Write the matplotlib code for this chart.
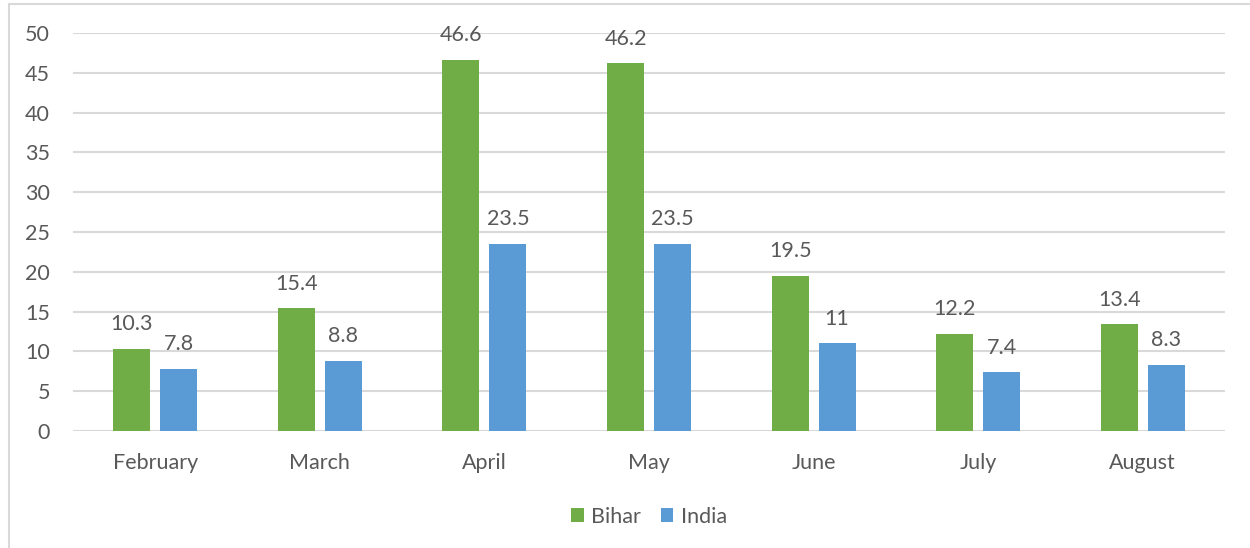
import matplotlib
matplotlib.use("Agg")
import matplotlib.pyplot as plt
import numpy as np
from matplotlib.patches import Rectangle

months = ["February", "March", "April", "May", "June", "July", "August"]
bihar = [10.3, 15.4, 46.6, 46.2, 19.5, 12.2, 13.4]
india = [7.8, 8.8, 23.5, 23.5, 11, 7.4, 8.3]
series_names = ["Bihar", "India"]
yticks = [0, 5, 10, 15, 20, 25, 30, 35, 40, 45, 50]

green = "#70ad47"
blue = "#5b9bd5"
txt = "#595959"
plt.rcParams['font.family'] = ['Lato', 'DejaVu Sans']
fs = 15.5

fig = plt.figure(figsize=(12.5, 5.48), dpi=100)
fig.patches.append(Rectangle((9/1250, -0.1), 1.2, (548-4)/548 + 0.1, transform=fig.transFigure,
                             fill=False, edgecolor="#d9d9d9", linewidth=1.5))
ax = fig.add_axes([73/1250, 1-431/548, (1225-73)/1250, (431-33)/548])

x = np.arange(len(months))
w = 0.225
gap = 0.06
off = (w + gap) / 2
b1 = ax.bar(x - off, bihar, w, color=green, label=series_names[0], zorder=3)
b2 = ax.bar(x + off, india, w, color=blue, label=series_names[1], zorder=3)

for bars, vals in ((b1, bihar), (b2, india)):
    for r, v in zip(bars, vals):
        ax.annotate(f"{v:g}", (r.get_x() + r.get_width()/2, v), xytext=(0, 10.5),
                    textcoords="offset points", ha="center", va="bottom",
                    fontsize=fs, color=txt)

ax.set_xlim(-0.5, len(months) - 0.5)
ax.set_ylim(0, 50)
ax.set_yticks(yticks)
ax.set_xticks(x)
ax.set_xticklabels(months)
ax.yaxis.grid(True, color="#d9d9d9", linewidth=1.5, zorder=0)
for s in ax.spines.values():
    s.set_visible(False)
ax.tick_params(axis="both", length=0, labelsize=fs, labelcolor=txt)
ax.tick_params(axis="y", pad=16.5)
ax.tick_params(axis="x", pad=16)

ax.legend(loc="center", bbox_to_anchor=(0.5, -0.215), ncol=2, frameon=False,
          fontsize=fs, labelcolor=txt, handlelength=0.6, handleheight=0.6,
          handletextpad=0.35, columnspacing=0.9)

fig.savefig("out.png", dpi=100)
